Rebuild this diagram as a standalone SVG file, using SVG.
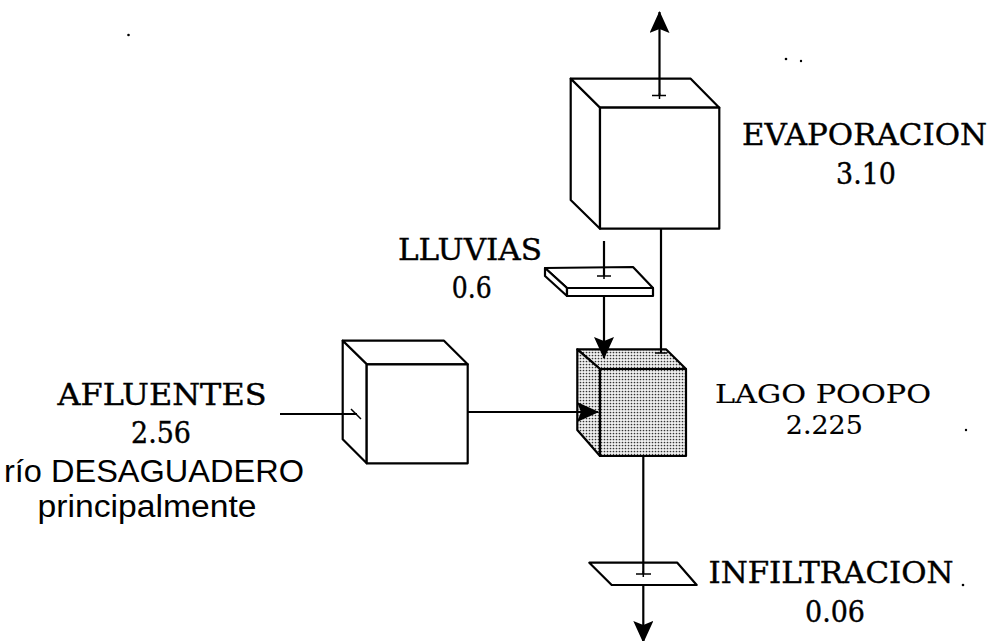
<svg xmlns="http://www.w3.org/2000/svg" width="994" height="641" viewBox="0 0 994 641">
<style>
.box{fill:#fff;stroke:#000;stroke-width:2.2;stroke-linejoin:round}
.lago{fill:url(#stip);stroke:#000;stroke-width:2.2;stroke-linejoin:round}
.ln{stroke:#000;stroke-width:2.2;fill:none}
.tick{stroke:#000;stroke-width:1.5;fill:none}
.ser{font-family:"DejaVu Serif","Liberation Serif",serif;font-size:29px;fill:#000;stroke:#000;stroke-width:0.4;text-anchor:middle}
.sm{font-size:26px;stroke-width:0.15}
.san{font-family:"Liberation Sans",Arial,sans-serif;font-size:31px;fill:#000;text-anchor:middle}
</style>
<defs>
<pattern id="stip" width="3" height="3" patternUnits="userSpaceOnUse">
<rect width="3" height="3" fill="#f0f0f0"/>
<circle cx="1.5" cy="1.5" r="0.85" fill="#333"/>
</pattern>
<marker id="arr" markerUnits="userSpaceOnUse" markerWidth="22" markerHeight="20" viewBox="0 0 22 20" refX="21" refY="10" orient="auto">
<path d="M0,0 L22,10 L0,20 L4,10 z" fill="#000"/>
</marker>
</defs>
<rect width="994" height="641" fill="#fff"/>

<g id="evaporacion">
<polygon class="box" points="570.7,78.7 690.7,78.7 719.3,107.7 600,107.7"/>
<polygon class="box" points="570.7,78.7 600,107.7 600,228.7 570.7,200"/>
<rect class="box" x="600" y="107.7" width="119.3" height="121"/>
<text class="ser" x="864.5" y="145" textLength="245" lengthAdjust="spacingAndGlyphs">EVAPORACION</text>
<text class="ser" x="866" y="183.5" textLength="60" lengthAdjust="spacingAndGlyphs">3.10</text>
</g>

<g id="lluvias">
<polygon class="box" points="545,268 633,267 653,288 567,288"/>
<polygon class="box" points="545,268 567,288 567,296 545,276"/>
<rect class="box" x="567" y="288" width="86" height="8"/>
<text class="ser" x="470" y="260" textLength="144" lengthAdjust="spacingAndGlyphs">LLUVIAS</text>
<text class="ser" x="471.7" y="298.3" textLength="40" lengthAdjust="spacingAndGlyphs">0.6</text>
</g>

<g id="afluentes">
<polygon class="box" points="342.7,340.7 444,340.7 467.7,364.3 366.7,364.3"/>
<polygon class="box" points="342.7,340.7 366.7,364.3 366.7,463.3 342.7,439.3"/>
<rect class="box" x="366.7" y="364.3" width="101" height="99"/>
<text class="ser" x="162" y="405" textLength="209" lengthAdjust="spacingAndGlyphs">AFLUENTES</text>
<text class="ser" x="161" y="443.3" textLength="60" lengthAdjust="spacingAndGlyphs">2.56</text>
<text class="san" x="154" y="481.7" textLength="300" lengthAdjust="spacingAndGlyphs">río DESAGUADERO</text>
<text class="san" x="147" y="516.7" textLength="219" lengthAdjust="spacingAndGlyphs">principalmente</text>
</g>

<g id="lago">
<polygon class="lago" points="577.3,349.3 666,349.3 686,369 600,369"/>
<polygon class="lago" points="577.3,349.3 600,369 600,456 577.3,430"/>
<rect class="lago" x="600" y="369" width="86" height="87"/>
<text class="ser sm" x="823" y="403.3" textLength="216" lengthAdjust="spacingAndGlyphs">LAGO POOPO</text>
<text class="ser sm" x="824.3" y="433.6" textLength="77" lengthAdjust="spacingAndGlyphs">2.225</text>
</g>

<g id="infiltracion">
<polygon class="box" points="589.3,562.7 677.3,562.7 696.7,585 611.7,585"/>
<text class="ser" x="831" y="583.3" textLength="245" lengthAdjust="spacingAndGlyphs">INFILTRACION</text>
<text class="ser" x="835" y="621.7" textLength="60" lengthAdjust="spacingAndGlyphs">0.06</text>
</g>

<g id="connectors">
<line class="ln" x1="659.5" y1="96" x2="659.5" y2="12" marker-end="url(#arr)"/>
<path class="tick" d="M652,95.5 H666 M659.5,93 V99"/>
<line class="ln" x1="661" y1="228.7" x2="661" y2="353"/>
<path class="tick" d="M655,353 H667"/>
<line class="ln" x1="604" y1="241" x2="604" y2="276"/>
<path class="tick" d="M597,276 H611 M604,273 V279"/>
<line class="ln" x1="604" y1="296" x2="604" y2="358" marker-end="url(#arr)"/>
<line class="ln" x1="280" y1="414" x2="357" y2="414"/>
<path class="tick" d="M351,409 L361,419"/>
<line class="ln" x1="467.7" y1="412" x2="598" y2="412" marker-end="url(#arr)"/>
<line class="ln" x1="643.3" y1="456" x2="643.3" y2="574"/>
<path class="tick" d="M636,574 H651 M643.3,571 V577"/>
<line class="ln" x1="643.3" y1="585" x2="643.3" y2="642" marker-end="url(#arr)"/>
</g>

<g id="specks" fill="#000">
<circle cx="128.5" cy="35" r="1.3"/>
<circle cx="786" cy="59" r="1.3"/>
<circle cx="801" cy="61" r="1.2"/>
<circle cx="966" cy="430" r="1.2"/>
<circle cx="963" cy="585" r="1.3"/>
</g>
</svg>
